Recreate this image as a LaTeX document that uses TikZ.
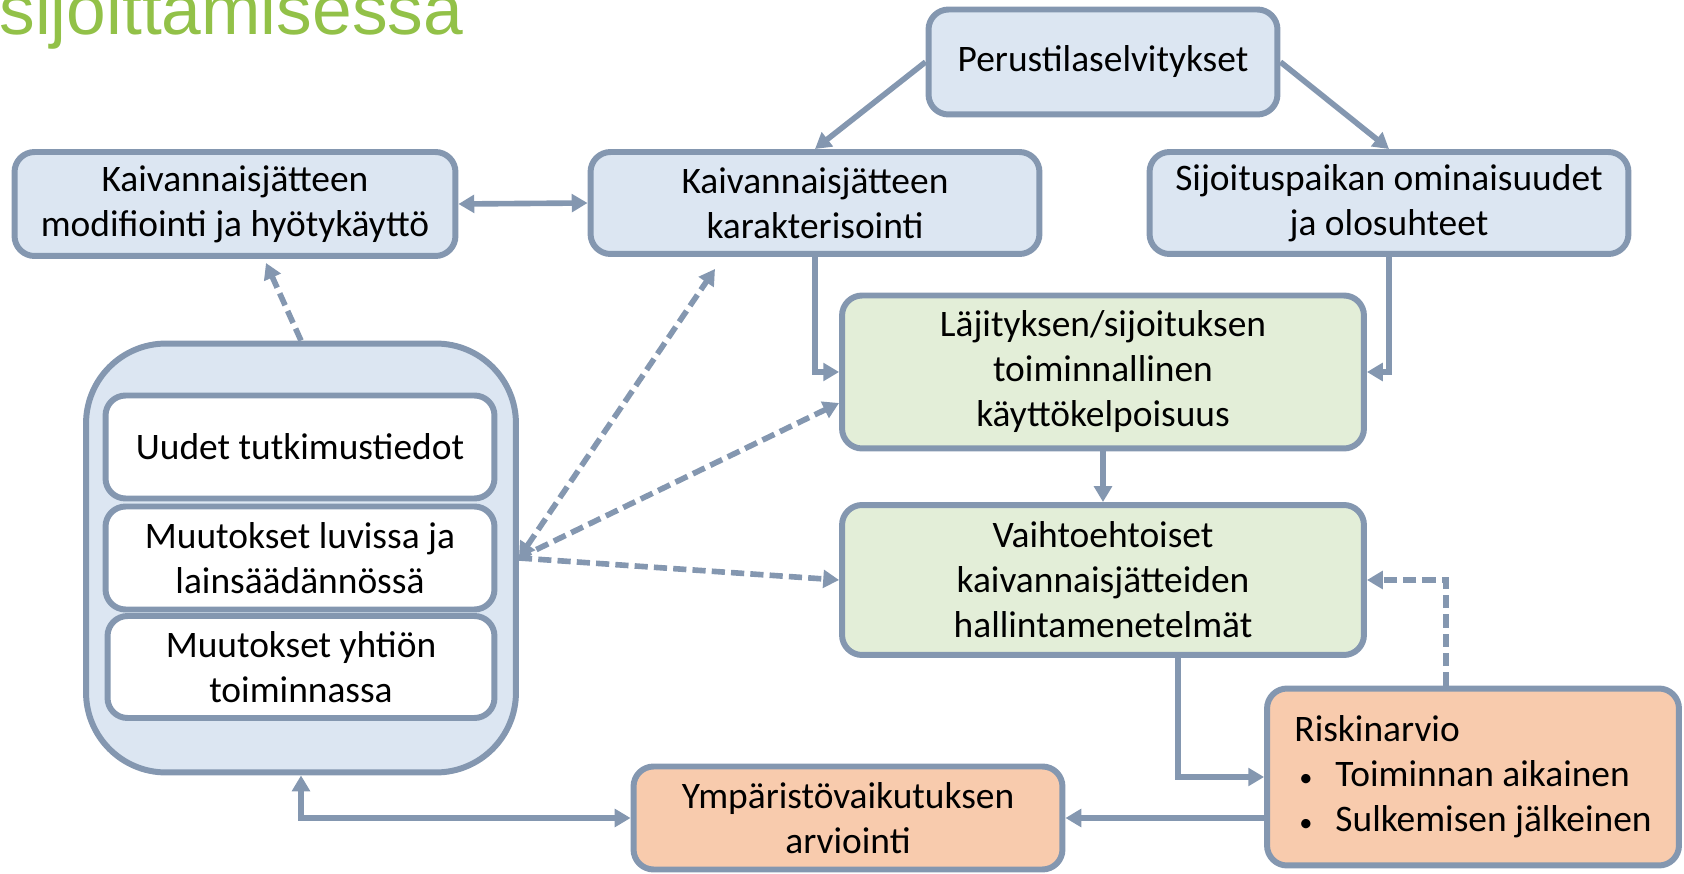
\documentclass[tikz,border=0pt]{standalone}
\usepackage{fontspec}
\setmainfont{Carlito}
\newfontfamily\titlefont{Liberation Sans}
\usepackage{xcolor}
\usepackage{tikz}
\usetikzlibrary{arrows.meta, calc}
\definecolor{lineGray}{RGB}{132, 151, 176}
\definecolor{boxBlue}{RGB}{220, 230, 242}
\definecolor{boxGreen}{RGB}{227, 238, 216}
\definecolor{boxOrange}{RGB}{248, 203, 173}
\definecolor{titleGreen}{RGB}{146, 193, 72}
\newcommand{\bul}{\hspace*{0.1cm}\makebox[0.72cm][l]{\fontsize{15}{15}\selectfont •}}

\begin{document}
\begin{tikzpicture}[x=0.02cm, y=-0.02cm, >={Triangle[length=9pt, width=10pt]},
    box/.style={draw=lineGray, line width=3.4pt, fill=boxBlue, rounded corners=0.4cm, align=center, inner sep=0pt, font=\fontsize{21.3}{25.6}\selectfont},
    greenbox/.style={box, fill=boxGreen},
    orangebox/.style={box, fill=boxOrange},
    innerbox/.style={box, fill=white},
    conn/.style={draw=lineGray, line width=3.2pt, ->},
    dconn/.style={conn, dash pattern=on 7.5pt off 3.5pt}]
        \clip (0,0) rectangle (1684,874);

        % Otsikko
        \node[anchor=base west, inner sep=0pt, text=titleGreen, font=\titlefont\fontsize{40.6}{48}\selectfont] (title) at (-1, 35) {sijoittamisessa};

        % Ylarivi
        \node[box, minimum width=6.98cm, minimum height=2.1cm] (peru) at (1103, 62) {Perustilaselvitykset};
        \node[box, minimum width=8.82cm, minimum height=2.08cm] (mod) at (235, 204) {Kaivannaisjätteen\\modifiointi ja hyötykäyttö};
        \node[box, minimum width=8.98cm, minimum height=2.04cm] (kar) at (815, 203) {Kaivannaisjätteen\\karakterisointi};
        \node[box, minimum width=9.58cm, minimum height=2.04cm] (sij) at (1389, 203) {Sijoituspaikan ominaisuudet\\ja olosuhteet};

        % Vihreat laatikot
        \node[greenbox, minimum width=10.44cm, minimum height=3.06cm] (laj) at (1103, 372) {Läjityksen/sijoituksen\\toiminnallinen\\käyttökelpoisuus};
        \node[greenbox, minimum width=10.44cm, minimum height=3.0cm] (vai) at (1103, 580) {Vaihtoehtoiset\\kaivannaisjätteiden\\hallintamenetelmät};

        % Muutokset
        \node[box, minimum width=8.6cm, minimum height=8.58cm, rounded corners=1.6cm] (cont) at (301, 558) {};
        \node[innerbox, minimum width=7.78cm, minimum height=2.06cm] (uud) at (300, 447) {Uudet tutkimustiedot};
        \node[innerbox, minimum width=7.78cm, minimum height=2.06cm] (luv) at (300, 558) {Muutokset luvissa ja\\lainsäädännössä};
        \node[innerbox, minimum width=7.74cm, minimum height=2.04cm] (yht) at (301, 667) {Muutokset yhtiön\\toiminnassa};

        % Arvioinnit
        \node[orangebox, align=left, minimum width=8.24cm, minimum height=3.54cm] (risk) at (1473, 777) {Riskinarvio\\\bul Toiminnan aikainen\\\bul Sulkemisen jälkeinen};
        \node[orangebox, minimum width=8.58cm, minimum height=2.06cm] (ymp) at (848, 818) {Ympäristövaikutuksen\\arviointi};

        % Yhteydet
        \draw[conn] (peru.west) -- (kar.north);
        \draw[conn] (peru.east) -- (sij.north);
        \draw[conn, <->] (mod.east) -- (kar.west);
        \draw[conn] (kar.south) |- (laj.west);
        \draw[conn] (sij.south) |- (laj.east);
        \draw[conn] (laj.south) -- (vai.north);
        \draw[conn] ($(vai.south)+(75,0)$) |- (risk.west);
        \draw[dconn] ($(risk.north)+(-27,0)$) |- (vai.east);
        \draw[conn] (risk.west |- ymp.east) -- (ymp.east);
        \draw[conn, <->] (cont.south) |- (ymp.west);

        % Katkoviivat
        \draw[dconn] (cont.north) -- ($(mod.south)+(31,4)$);
        \draw[dconn, <->] (cont.east) -- ($(kar.south)+(-100,12)$);
        \draw[dconn] (cont.east) -- ($(laj.west)+(0,31)$);
        \draw[dconn] (cont.east) -- (vai.west);
    \end{tikzpicture}
\end{document}
